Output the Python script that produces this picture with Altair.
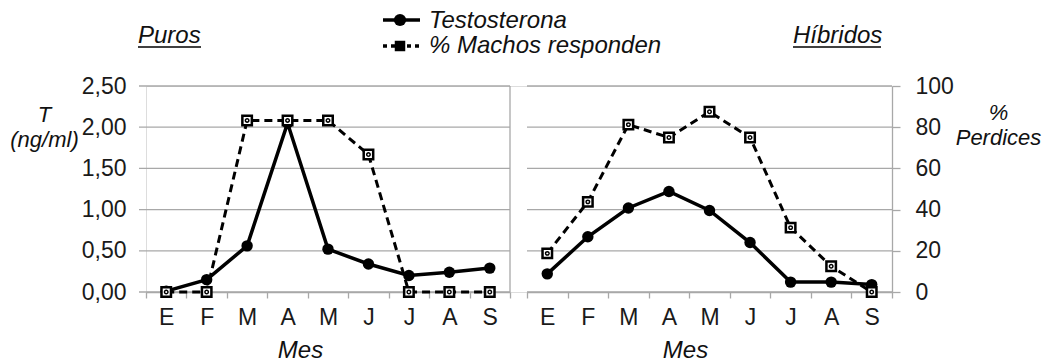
import altair as alt
import pandas as pd

months = ["Ene", "Feb", "Mar", "Abr", "May", "Jun", "Jul", "Ago", "Sep"]
puros_t = [0.01, 0.15, 0.56, 2.05, 0.52, 0.34, 0.20, 0.24, 0.29]
puros_pct = [0, 0, 83.3, 83.3, 83.3, 66.7, 0, 0, 0]
hibridos_t = [0.22, 0.67, 1.02, 1.22, 0.99, 0.60, 0.12, 0.12, 0.09]
hibridos_pct = [18.75, 43.75, 81.25, 75, 87.5, 75, 31.25, 12.5, 0]
t_ticks = [0, 0.5, 1.0, 1.5, 2.0, 2.5]
pct_ticks = [0, 20, 40, 60, 80, 100]

FONT = "Liberation Sans"
GRID = "#a8a8a8"
W, H = 746, 206

t_scale = alt.Scale(domain=[0, 2.5], nice=False, zero=True)
p_scale = alt.Scale(domain=[0, 100], nice=False, zero=True)


def x_enc(rng, title_x):
    return alt.X(
        "mes:N",
        sort=months,
        scale=alt.Scale(type="band", domain=months, range=rng, paddingInner=0, paddingOuter=0),
        axis=alt.Axis(
            orient="bottom", title="Mes", titleX=title_x, titleY=65, titleBaseline="alphabetic",
            titleAlign="center", titleFont=FONT, titleFontSize=24, titleFontStyle="italic",
            titleFontWeight="normal", titleColor="#111",
            labelExpr="substring(datum.label, 0, 1)", labelAngle=0, labelFont=FONT,
            labelFontSize=23, labelColor="#1a1a1a", labelPadding=8,
            tickBand="extent", tickSize=6, tickColor=GRID, tickWidth=1.3,
            domainColor=GRID, domainWidth=1.3, grid=False,
        ),
    )


def panel(t_vals, p_vals, rng, title_x, grid_x1, grid_x2, left_axis, right_axis):
    df = pd.DataFrame({"mes": months, "t": t_vals, "pct": p_vals})
    xe = x_enc(rng, title_x)
    grid = alt.Chart(pd.DataFrame({"v": t_ticks})).mark_rule(color=GRID, strokeWidth=1.3).encode(
        y=alt.Y("v:Q", scale=t_scale, axis=None), x=alt.value(grid_x1), x2=alt.value(grid_x2)
    )
    yt_axis = None
    if left_axis:
        yt_axis = alt.Axis(
            orient="left", values=t_ticks, labelExpr="replace(format(datum.value, '.2f'), '.', ',')",
            domain=False, ticks=False, grid=False, labelPadding=20, labelFont=FONT, labelFontSize=23,
            labelColor="#1a1a1a", title=["T", "(ng/ml)"], titleAngle=0, titleX=-102, titleY=35,
            titleAlign="center", titleBaseline="alphabetic", titleFont=FONT, titleFontSize=22,
            titleFontStyle="italic", titleFontWeight="normal", titleLineHeight=25, titleColor="#111",
        )
    yp_axis = None
    if right_axis:
        yp_axis = alt.Axis(
            orient="right", values=pct_ticks, format="d", domain=True, domainColor=GRID,
            domainWidth=1.3, ticks=True, tickSize=8, tickColor=GRID, tickWidth=1.3, grid=False,
            labelPadding=15, labelFont=FONT, labelFontSize=23, labelColor="#1a1a1a",
            title=["%", "Perdices"], titleAngle=0, titleX=106, titleY=33, titleAlign="center",
            titleBaseline="alphabetic", titleFont=FONT, titleFontSize=22, titleFontStyle="italic",
            titleFontWeight="normal", titleLineHeight=25, titleColor="#111",
        )
    base = alt.Chart(df)
    t_line = base.mark_line(color="black", strokeWidth=3.5).encode(
        x=xe, y=alt.Y("t:Q", scale=t_scale, axis=yt_axis)
    )
    t_pts = base.mark_point(shape="circle", filled=True, size=130, color="black", opacity=1).encode(
        x=xe, y=alt.Y("t:Q", scale=t_scale, axis=None)
    )
    p_line = base.mark_line(color="black", strokeWidth=3, strokeDash=[8, 5]).encode(
        x=xe, y=alt.Y("pct:Q", scale=p_scale, axis=yp_axis)
    )
    p_sq = base.mark_point(shape="square", size=90, filled=True, fill="white", stroke="black",
                           strokeWidth=2.5, opacity=1).encode(
        x=xe, y=alt.Y("pct:Q", scale=p_scale, axis=None)
    )
    p_in = base.mark_point(shape="circle", size=12, filled=False, stroke="black", strokeWidth=1.5,
                           opacity=1).encode(
        x=xe, y=alt.Y("pct:Q", scale=p_scale, axis=None)
    )
    return alt.layer(grid, t_line, p_line, t_pts, p_sq, p_in).resolve_scale(y="independent")


left = panel(puros_t, puros_pct, [0, 364], 154, -7, 364, True, True)
right = panel(hibridos_t, hibridos_pct, [381, 746], 539, 381, 746, False, False)

one = pd.DataFrame({"a": [0]})

border = alt.Chart(one).mark_rule(color=GRID, strokeWidth=1.3).encode(
    x=alt.value(364), y=alt.value(0), y2=alt.value(H)
)


def label(text, x, y, size=24):
    return alt.Chart(one).mark_text(
        text=text, align="left", baseline="alphabetic", font=FONT, fontSize=size,
        fontStyle="italic", color="#111"
    ).encode(x=alt.value(x), y=alt.value(y))


def hline(x1, x2, y, width=1.3, dash=None):
    kw = dict(color="black", strokeWidth=width)
    if dash:
        kw["strokeDash"] = dash
    return alt.Chart(one).mark_rule(**kw).encode(x=alt.value(x1), x2=alt.value(x2), y=alt.value(y))


annot = [
    label("Puros", -8, -43),
    hline(-8, 55, -39),
    label("Híbridos", 647, -43),
    hline(647, 735, -39),
    label("Testosterona", 283, -58),
    label("% Machos responden", 283, -33),
    hline(237, 274, -66, width=3.5),
    alt.Chart(one).mark_point(shape="circle", filled=True, size=150, color="black", opacity=1).encode(
        x=alt.value(254), y=alt.value(-66)),
    hline(237, 274, -40, width=3.5, dash=[4, 4]),
    alt.Chart(one).mark_point(shape="square", filled=True, size=110, color="black", opacity=1).encode(
        x=alt.value(254), y=alt.value(-40)),
]

chart = alt.layer(left, right, border, *annot).resolve_scale(x="independent", y="independent").properties(
    width=W, height=H,
    autosize=alt.AutoSizeParams(type="none"),
    padding={"left": 146, "top": 86, "right": 152, "bottom": 69},
).configure_view(stroke=None).configure(background="white")

chart.save("out.html", embed_options={"renderer": "svg", "actions": False})
